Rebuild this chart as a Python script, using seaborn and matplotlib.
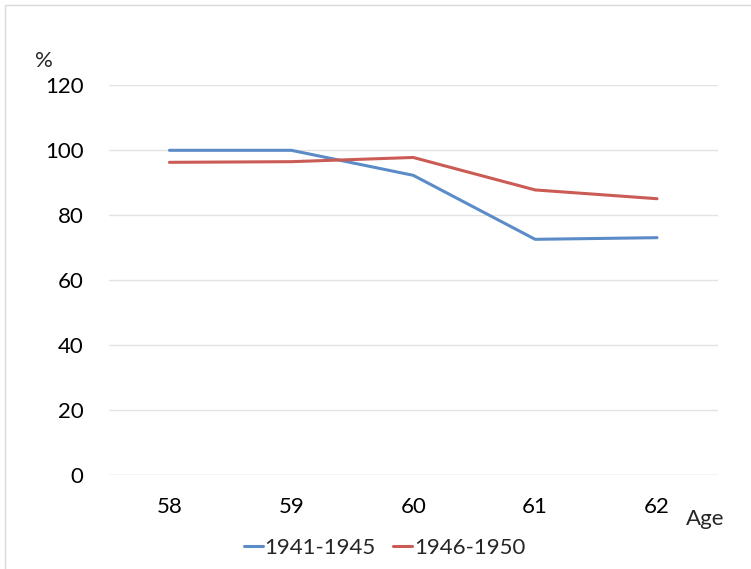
import matplotlib
matplotlib.use("Agg")
import matplotlib.pyplot as plt
import seaborn as sns
import pandas as pd
from matplotlib.patches import Rectangle
from matplotlib.lines import Line2D

ages = ["58", "59", "60", "61", "62"]
cohort_1941_1945 = [100.0, 100.0, 92.3, 72.6, 73.1]
cohort_1946_1950 = [96.3, 96.5, 97.8, 87.8, 85.1]
series_names = ["1941-1945", "1946-1950"]
y_ticks = [0, 20, 40, 60, 80, 100, 120]

sns.set_theme(style="white")
plt.rcParams['font.family'] = ['Lato', 'DejaVu Sans']

df = pd.DataFrame({
    "Age": ages * 2,
    "value": cohort_1941_1945 + cohort_1946_1950,
    "cohort": [series_names[0]] * len(ages) + [series_names[1]] * len(ages),
})

colors = ["#5B8CC8", "#CB5B55"]
FS = 16

fig = plt.figure(figsize=(7.51, 5.69), dpi=100)
ax = fig.add_axes([0.1445, 0.165, 0.8115, 0.685])

sns.lineplot(data=df, x="Age", y="value", hue="cohort",
             palette=colors, linewidth=2.2, ax=ax,
             sort=False, legend=False)

ax.set_xlim(-0.5, 4.5)
ax.set_ylim(0, 120)
ax.set_yticks(y_ticks)
ax.set_yticklabels([str(t) for t in y_ticks])
ax.yaxis.grid(True, color="#E3E3E3", linewidth=1.0)
ax.set_axisbelow(True)
for s in ax.spines.values():
    s.set_visible(False)
ax.axhline(0, color="#E3E3E3", linewidth=1.0, zorder=0)
ax.tick_params(axis="both", length=0, labelsize=FS, colors="black")
ax.tick_params(axis="y", pad=18)
ax.tick_params(axis="x", pad=16)
ax.set_xlabel("")
ax.set_ylabel("")

fig.text(0.046, 0.893, "%", fontsize=FS, ha="left", va="center")
fig.text(0.913, 0.088, "Age", fontsize=FS, ha="left", va="center")

handles = [Line2D([], [], color=colors[0], linewidth=2.2),
           Line2D([], [], color=colors[1], linewidth=2.2)]
fig.legend(handles, series_names, loc="center", bbox_to_anchor=(0.512, 0.037),
           ncol=2, frameon=False, fontsize=FS, handlelength=0.85,
           handletextpad=0.08, columnspacing=0.8, borderpad=0)

fig.patches.append(Rectangle((0.006, -0.01), 1.0, 1.001, transform=fig.transFigure,
                             fill=False, edgecolor="#D9D9D9", linewidth=1.0))

fig.savefig("out.png", dpi=100)
